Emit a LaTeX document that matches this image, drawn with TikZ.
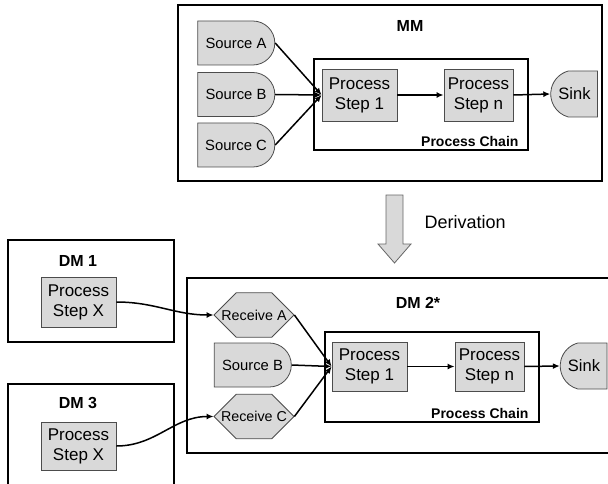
\documentclass[tikz,border=0pt]{standalone}
\usepackage{fontspec}
\setmainfont{Liberation Sans}
\usetikzlibrary{arrows.meta,shapes.misc}
\tikzset{
  boxfill/.style={fill=black!15,draw=black!70,line width=0.8pt},
  stepbox/.style={boxfill,rectangle,minimum width=75pt,minimum height=52pt,inner sep=0pt,align=center,font=\fontsize{17}{20}\selectfont},
  sourcebox/.style={boxfill,rounded rectangle,rounded rectangle left arc=none,minimum width=77pt,minimum height=44pt,inner sep=0pt,font=\fontsize{14.8}{17}\selectfont},
  sinkbox/.style={boxfill,rounded rectangle,rounded rectangle right arc=none,rounded rectangle arc length=150,minimum width=45pt,minimum height=46pt,inner sep=0pt,font=\fontsize{16.5}{19}\selectfont},
  receivebox/.style={boxfill,chamfered rectangle,chamfered rectangle xsep=9pt,chamfered rectangle ysep=17pt,minimum width=80pt,minimum height=34pt,inner sep=0pt,font=\fontsize{14.3}{17}\selectfont},
  frame/.style={line width=1.6pt},
  chain/.style={line width=1.3pt},
  title/.style={font=\bfseries\fontsize{16}{19}\selectfont},
  chainlabel/.style={anchor=east,font=\bfseries\fontsize{14}{17}\selectfont},
  flow/.style={line width=1.5pt,-{Latex[length=7pt,width=6pt]}},
}
\begin{document}
\begin{tikzpicture}[x=1pt,y=-1pt]
                \useasboundingbox (0,0) rectangle (608,484);
                \draw [frame] (178,5) rectangle (602,181);
                \node [title] (mm) at (410,26) {MM};
                \draw [chain] (314,59) rectangle (528,150);
                \node [chainlabel] (chaintop) at (522,141) {Process Chain};
                \node [sourcebox] (srcA) at (236,43) {Source A};
                \node [sourcebox] (srcB) at (236,94.5) {Source B};
                \node [sourcebox] (srcC) at (236,145) {Source C};
                \node [stepbox] (stepone) at (359.5,95) {Process\\Step 1};
                \node [stepbox,minimum width=69pt] (stepn) at (478.5,95) {Process\\Step n};
                \node [sinkbox] (sink) at (574.5,94) {Sink};
                \draw [flow] (srcA.east) -- (stepone.west);
                \draw [flow] (srcB.east) -- (stepone.west);
                \draw [flow] (srcC.east) -- (stepone.west);
                \draw [flow] (stepone.east) -- (stepn.west);
                \draw [flow] (stepn.east) -- (sink.west);
                \filldraw [fill=black!15,draw=black!60,line width=0.8pt] (386,195) -- (403,195) -- (403,244) -- (411,244) -- (394.5,263) -- (378,244) -- (386,244) -- cycle;
                \node [anchor=west,font=\fontsize{18}{21}\selectfont] (deriv) at (421,222) {Derivation};
                \draw [frame] (8,240) rectangle (174,342);
                \node [title] (dmone) at (78,261) {DM 1};
                \node [stepbox,minimum height=50pt] (stepxone) at (78.5,302) {Process\\Step X};
                \draw [frame] (8,484) -- (8,384) -- (174,384) -- (174,484);
                \node [title] (dmthree) at (78,403) {DM 3};
                \node [stepbox,minimum height=48pt] (stepxthree) at (78.5,446) {Process\\Step X};
                \draw [frame] (608,278) -- (187,278) -- (187,453) -- (608,453);
                \node [title] (dmtwo) at (418,303) {DM 2*};
                \draw [chain] (325,332) rectangle (539,422);
                \node [chainlabel] (chainbot) at (532,413) {Process Chain};
                \node [receivebox] (recvA) at (254,315) {Receive A};
                \node [sourcebox] (srcBb) at (252.5,365) {Source B};
                \node [receivebox] (recvC) at (254,416.5) {Receive C};
                \node [stepbox,minimum height=49pt] (steponeb) at (369.5,366.5) {Process\\Step 1};
                \node [stepbox,minimum width=69pt,minimum height=49pt] (stepnb) at (489.5,366.5) {Process\\Step n};
                \node [sinkbox] (sinkb) at (584,366) {Sink};
                \draw [flow] (stepxone.east) to [out=0,in=180] (recvA.west);
                \draw [flow] (stepxthree.east) to [out=0,in=180] (recvC.west);
                \draw [flow] (recvA.east) -- (steponeb.west);
                \draw [flow] (srcBb.east) -- (steponeb.west);
                \draw [flow] (recvC.east) -- (steponeb.west);
                \draw [flow] (steponeb.east) -- (stepnb.west);
                \draw [flow] (stepnb.east) -- (sinkb.west);
            \end{tikzpicture}
\end{document}
